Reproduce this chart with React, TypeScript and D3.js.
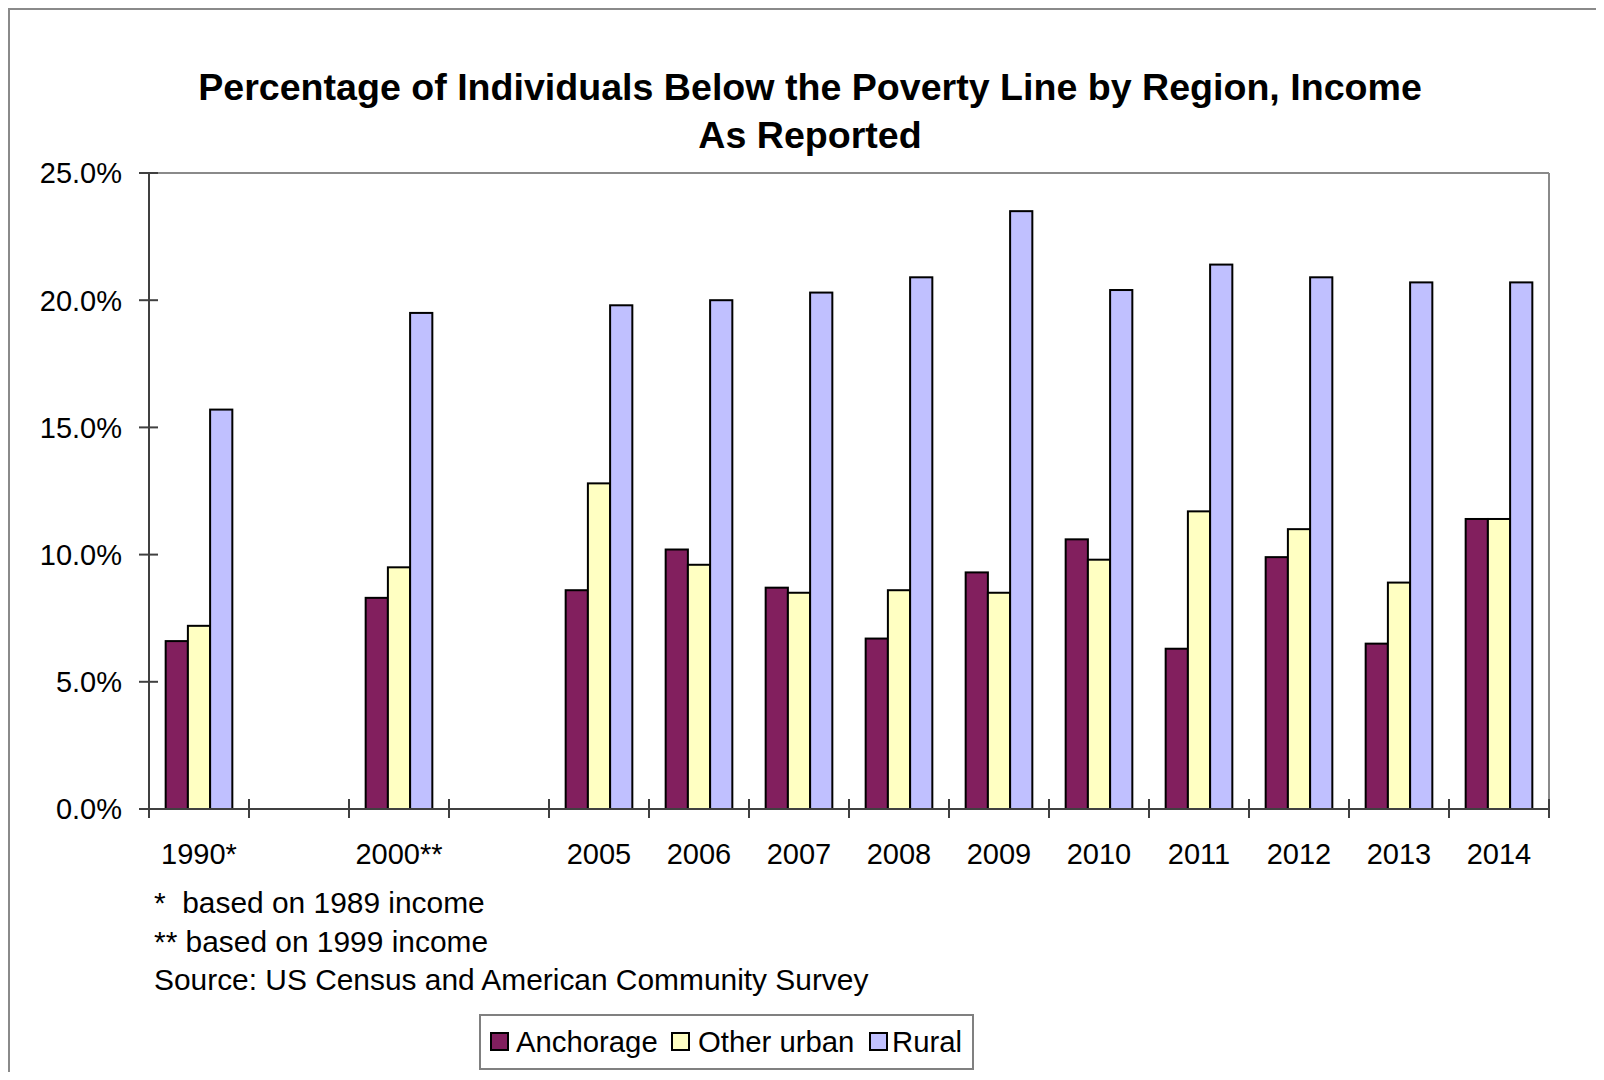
import React from "react";
import * as d3 from "d3";

// Poverty rates (%) by region; blank slots keep the gaps between 1990, 2000 and 2005.
const categories = ["1990*", "", "2000**", "", "2005", "2006", "2007", "2008", "2009", "2010", "2011", "2012", "2013", "2014"];
const anchorage = [6.6, null, 8.3, null, 8.6, 10.2, 8.7, 6.7, 9.3, 10.6, 6.3, 9.9, 6.5, 11.4];
const otherUrban = [7.2, null, 9.5, null, 12.8, 9.6, 8.5, 8.6, 8.5, 9.8, 11.7, 11.0, 8.9, 11.4];
const rural = [15.7, null, 19.5, null, 19.8, 20.0, 20.3, 20.9, 23.5, 20.4, 21.4, 20.9, 20.7, 20.7];

const seriesNames = ["Anchorage", "Other urban", "Rural"];
const seriesColors = ["#821F5E", "#FFFFC2", "#C0C0FF"];
const seriesValues = [anchorage, otherUrban, rural];

const yTicks = [0, 5, 10, 15, 20, 25];
const footnotes = ["*  based on 1989 income", "** based on 1999 income", "Source: US Census and American Community Survey"];

const FONT = "'Liberation Sans', Arial, Helvetica, sans-serif";

export default function App() {
  const left = 149, right = 1549, top = 173, bottom = 809;

  const x = d3.scaleBand<number>().domain(d3.range(categories.length)).range([left, right]).paddingInner(0).paddingOuter(0);
  const xs = d3.scaleBand<number>().domain(d3.range(seriesNames.length)).range([0, x.bandwidth()]).paddingInner(0).paddingOuter(0.75);
  const y = d3.scaleLinear().domain([0, 25]).range([bottom, top]);

  const boundaries = d3.range(categories.length + 1).map((i) => left + i * x.step());

  const legendItems = [
    { sq: 491, tx: 516 },
    { sq: 672, tx: 698 },
    { sq: 870, tx: 892 },
  ];

  return (
    <svg width={1588} height={1064} style={{ display: "block", background: "#fff" }} fontFamily={FONT}>
      <g transform="translate(-8,-8)">
        {/* outer chart frame (left and top edges) */}
        <line x1={9} y1={8} x2={9} y2={1080} stroke="#8a8a8a" strokeWidth={2} />
        <line x1={8} y1={9} x2={1604} y2={9} stroke="#8a8a8a" strokeWidth={2} />

        {/* title */}
        <text x={810} y={99.5} textAnchor="middle" fontSize={37.6} fontWeight="bold" fill="#000">
          Percentage of Individuals Below the Poverty Line by Region, Income
        </text>
        <text x={810} y={148} textAnchor="middle" fontSize={37.6} fontWeight="bold" fill="#000">
          As Reported
        </text>

        {/* plot area border */}
        <line x1={left} y1={top} x2={right} y2={top} stroke="#8a8a8a" strokeWidth={2} />
        <line x1={right} y1={top} x2={right} y2={bottom} stroke="#8a8a8a" strokeWidth={2} />

        {/* bars */}
        {seriesValues.map((vals, s) => (
          <g key={seriesNames[s]}>
            {vals.map((v, i) =>
              v == null ? null : (
                <rect
                  key={i}
                  x={(x(i) as number) + (xs(s) as number)}
                  y={y(v)}
                  width={xs.bandwidth()}
                  height={y(0) - y(v)}
                  fill={seriesColors[s]}
                  stroke="#000"
                  strokeWidth={2}
                />
              )
            )}
          </g>
        ))}

        {/* y axis */}
        <line x1={left} y1={top} x2={left} y2={bottom} stroke="#404040" strokeWidth={2} />
        {yTicks.map((t) => (
          <g key={t}>
            <line x1={left - 10} x2={left + 9} y1={y(t)} y2={y(t)} stroke="#404040" strokeWidth={2} />
            <text x={122} y={y(t)} dy="0.36em" textAnchor="end" fontSize={29} fill="#000">
              {d3.format(".1f")(t)}%
            </text>
          </g>
        ))}

        {/* x axis */}
        <line x1={left} y1={bottom} x2={right} y2={bottom} stroke="#404040" strokeWidth={2} />
        {boundaries.map((bx, i) => (
          <line key={i} x1={bx} x2={bx} y1={bottom - 10} y2={bottom + 9} stroke="#404040" strokeWidth={2} />
        ))}
        {categories.map((c, i) =>
          c ? (
            <text key={i} x={(x(i) as number) + x.bandwidth() / 2} y={864} textAnchor="middle" fontSize={29} fill="#000">
              {c}
            </text>
          ) : null
        )}

        {/* footnotes */}
        {footnotes.map((f, i) => (
          <text key={i} x={154} y={913 + i * 38.5} fontSize={29.9} fill="#000" style={{ whiteSpace: "pre" }}>
            {f}
          </text>
        ))}

        {/* legend */}
        <rect x={480} y={1015} width={493} height={54} fill="#fff" stroke="#808080" strokeWidth={2} />
        {seriesNames.map((name, s) => (
          <g key={name}>
            <rect x={legendItems[s].sq} y={1033} width={17} height={17} fill={seriesColors[s]} stroke="#000" strokeWidth={2} />
            <text x={legendItems[s].tx} y={1052} fontSize={29.3} fill="#000">
              {name}
            </text>
          </g>
        ))}
      </g>
    </svg>
  );
}
